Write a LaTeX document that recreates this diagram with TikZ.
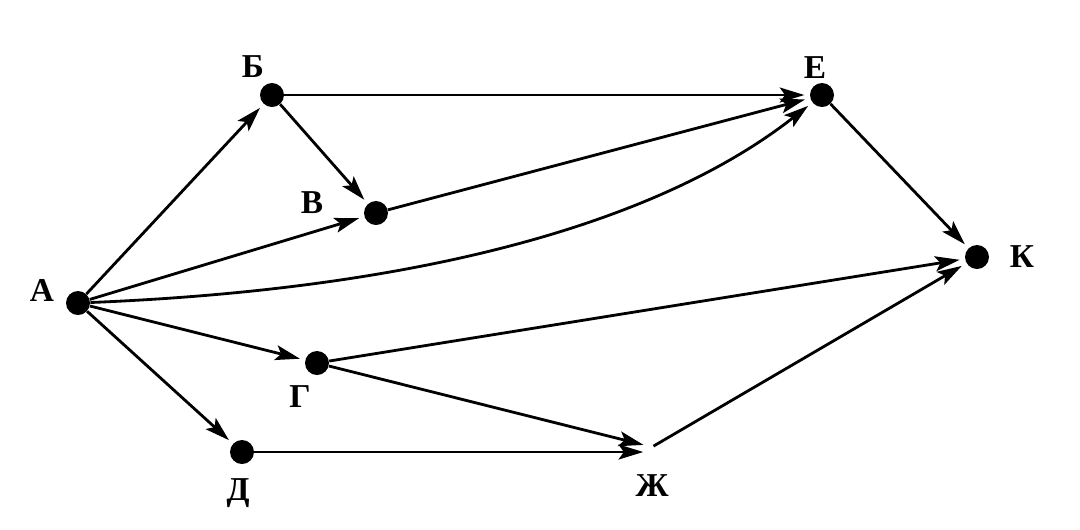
\documentclass[tikz,border=0pt]{standalone}
\usepackage{fontspec}
\setmainfont{Liberation Serif}
\usetikzlibrary{arrows.meta}
\begin{document}
\begin{tikzpicture}[x=0.02cm,y=-0.02cm,
  vtx/.style={circle,fill=black,inner sep=0pt,minimum size=0.48cm},
  lbl/.style={font=\fontsize{19}{21}\selectfont\bfseries,inner sep=0pt},
  edge/.style={line width=1.6pt,-{Stealth[length=14pt,width=8.5pt,inset=3pt]},shorten >=3pt}]
\useasboundingbox (0,0) rectangle (1080,529);
\node[vtx] (A) at (78,303) {};
\node[vtx] (B) at (272,95) {};
\node[vtx] (V) at (376,213) {};
\node[vtx] (E) at (822,95) {};
\node[vtx] (K) at (977,257) {};
\node[vtx] (G) at (317,363) {};
\node[vtx] (D) at (242,452) {};
\coordinate (Zh) at (652,447);
\node[lbl] (lA) at (42,290) {А};
\node[lbl] (lB) at (253,67) {Б};
\node[lbl] (lV) at (312,203) {В};
\node[lbl] (lE) at (815,68) {Е};
\node[lbl] (lK) at (1022,257) {К};
\node[lbl] (lG) at (300,397) {Г};
\node[lbl] (lD) at (238,493) {Д};
\node[lbl] (lZh) at (652,486) {Ж};
\draw[edge] (A) -- (B);
\draw[edge] (A) -- (V);
\draw[edge] (A) .. controls (400,290) and (650,230) .. (E);
\draw[edge] (A) -- (G);
\draw[edge] (A) -- (D);
\draw[edge] (B) -- (E);
\draw[edge] (B) -- (V);
\draw[edge] (V) -- (E);
\draw[edge] (E) -- (K);
\draw[edge] (G) -- (K);
\draw[edge,shorten >=5pt] (G) -- (Zh);
\draw[edge,shorten >=5pt] (D) -- (D -| Zh);
\draw[edge,shorten <=1pt] (Zh) -- (K);
\end{tikzpicture}
\end{document}
